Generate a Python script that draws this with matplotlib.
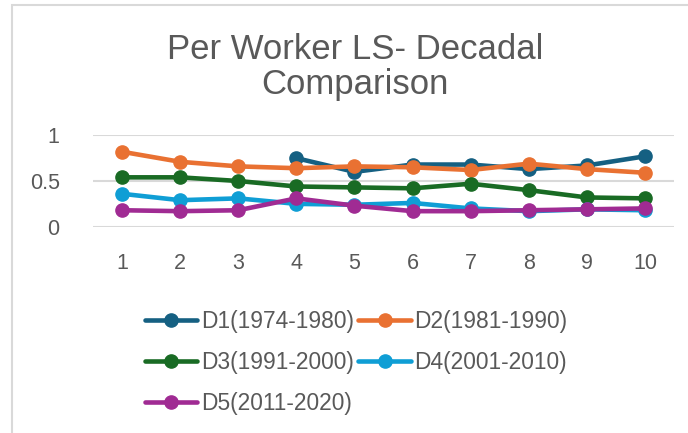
import matplotlib.pyplot as plt
from matplotlib.patches import Rectangle

plt.rcParams["font.family"] = ["Liberation Sans", "DejaVu Sans"]

TEXT = "#595959"
GRID = "#D9D9D9"

x_labels = ["1", "2", "3", "4", "5", "6", "7", "8", "9", "10"]
series_names = ["D1(1974-1980)", "D2(1981-1990)", "D3(1991-2000)",
                "D4(2001-2010)", "D5(2011-2020)"]
series_colors = ["#156082", "#E97132", "#196B24", "#0F9ED5", "#A02B93"]

# D1 starts at point 4
d1 = [None, None, None, 0.75, 0.60, 0.68, 0.68, 0.63, 0.67, 0.77]
d2 = [0.82, 0.71, 0.66, 0.64, 0.66, 0.65, 0.62, 0.69, 0.63, 0.59]
d3 = [0.54, 0.54, 0.50, 0.44, 0.43, 0.42, 0.47, 0.40, 0.32, 0.31]
d4 = [0.36, 0.29, 0.31, 0.25, 0.24, 0.26, 0.20, 0.17, 0.19, 0.18]
d5 = [0.18, 0.17, 0.18, 0.31, 0.23, 0.17, 0.17, 0.18, 0.19, 0.20]
series_values = [d1, d2, d3, d4, d5]

fig = plt.figure(figsize=(6.88, 4.33), dpi=100)
ax = fig.add_axes([93 / 688, 1 - 226.7 / 433, (674 - 93) / 688, 91.4 / 433])

xs = list(range(1, len(x_labels) + 1))
handles = []
for name, vals, color in zip(series_names, series_values, series_colors):
    pts = [(x, v) for x, v in zip(xs, vals) if v is not None]
    h, = ax.plot([p[0] for p in pts], [p[1] for p in pts], color=color, lw=3.3,
                 marker="o", markersize=9.5, label=name, clip_on=False,
                 solid_capstyle="round")
    handles.append(h)

ax.set_xlim(0.5, len(x_labels) + 0.5)
ax.set_ylim(0, 1)
ax.set_yticks([0, 0.5, 1])
ax.set_yticklabels(["0", "0.5", "1"])
ax.set_xticks(xs)
ax.set_xticklabels(x_labels)
ax.tick_params(length=0, labelsize=15.5, labelcolor=TEXT)
ax.tick_params(axis="y", pad=24)
ax.tick_params(axis="x", pad=19)
ax.grid(axis="y", color=GRID, lw=1.5)
ax.set_axisbelow(True)
for s in ax.spines.values():
    s.set_visible(False)

fig.text(355 / 688, 1 - 67 / 433, "Per Worker LS- Decadal\nComparison",
         ha="center", va="center", fontsize=25, color=TEXT, linespacing=1.1)

# row-major order for a 2-column legend
order = [0, 2, 4, 1, 3]
fig.legend([handles[i] for i in order], [series_names[i] for i in order],
           loc="upper left", bbox_to_anchor=(145 / 688, 1 - 310 / 433),
           ncol=2, frameon=False, fontsize=16.4, labelcolor=TEXT,
           handlelength=2.3, handletextpad=0.15, columnspacing=0.2,
           labelspacing=0.8, borderpad=0, borderaxespad=0)

fig.patches.append(Rectangle((12 / 688, -0.02), 1.0, 1 - 5 / 433 + 0.02,
                             transform=fig.transFigure, fill=False,
                             edgecolor=GRID, lw=1.5))

fig.savefig("out.png", dpi=100)
